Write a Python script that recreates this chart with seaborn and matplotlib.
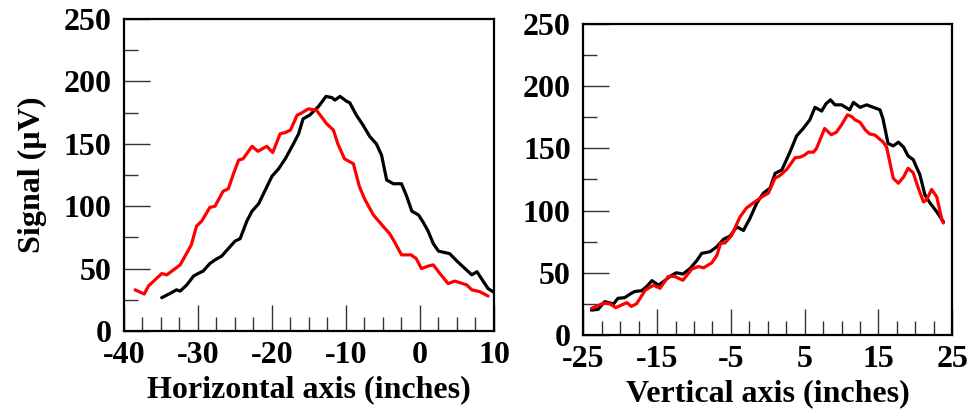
import numpy as np
import pandas as pd
import matplotlib
matplotlib.use("Agg")
import matplotlib.pyplot as plt
from matplotlib.ticker import MultipleLocator
import seaborn as sns

# ---- Data ----
h_red_x = [-38.5, -37.25, -36.7, -34.9, -34.2, -32.4, -30.9, -30.2, -29.5, -28.4, -27.7, -26.6, -25.9,
           -25.2, -24.5, -23.9, -22.7, -21.9, -20.7, -19.9, -18.9, -18.2, -17.5, -16.6, -16.2, -15.1,
           -14.0, -12.6, -11.7, -11.1, -10.2, -9.0, -8.2, -7.5, -6.3, -5.0, -4.1, -3.4, -2.5, -1.2,
           -0.5, 0.2, 1.1, 1.8, 2.7, 3.8, 4.7, 6.3, 7.0, 8.1, 9.2]
h_red_y = [33, 29.6, 36, 46, 45, 53, 69, 84, 88, 99, 100, 112, 114,
           126, 137, 138, 148, 144, 148, 143, 158, 159, 161, 173, 174, 178,
           177, 166, 161, 150, 138, 134, 116, 106, 93, 84, 78, 71, 61, 61,
           58, 50, 52, 53, 46, 38, 40, 37, 33, 31.5, 28]

h_blk_x = [-34.9, -33.8, -32.9, -32.4, -31.5, -30.6, -30.0, -29.3, -28.4, -27.7, -26.8, -25.9, -25.0,
           -24.3, -23.4, -22.7, -21.8, -20.9, -20.0, -19.1, -18.2, -17.1, -16.4, -15.8, -14.9, -13.7,
           -12.7, -11.9, -11.5, -10.8, -9.9, -9.5, -8.6, -7.7, -6.8, -5.9, -5.2, -4.5, -3.6, -2.5,
           -1.8, -1.1, -0.2, 0.45, 1.1, 1.8, 2.5, 4.0, 5.0, 5.9, 7.0, 7.7, 8.3, 9.2, 10.0]
h_blk_y = [26.7, 30, 33, 32, 37, 44, 46, 48, 54, 57, 60, 66, 72,
           74, 88, 96, 102, 113, 124, 130, 138, 150, 158, 170, 173, 180,
           188, 187, 185, 188, 184, 183, 173, 165, 156, 150, 141, 121, 118, 118,
           108, 96, 93, 87, 80, 70, 64, 62, 56, 51, 45, 47.5, 42, 34, 31]

v_blk_x = [-23.9, -23.0, -22.1, -20.9, -20.3, -19.4, -18.5, -18.0, -17.1, -16.4, -15.7, -14.8, -13.9,
           -13.3, -12.4, -11.5, -10.5, -9.6, -8.96, -7.8, -6.9, -6.0, -5.1, -4.2, -3.3, -2.4, -1.5,
           -0.6, 0.3, 1.0, 1.9, 3.0, 3.9, 4.8, 5.7, 6.4, 7.3, 7.9, 8.5, 9.1, 10.0, 11.1, 11.6, 12.5,
           13.4, 14.3, 15.2, 15.6, 16.3, 17.0, 17.7, 18.4, 19.0, 19.7, 20.6, 21.3, 22.0, 22.9, 23.8]
v_blk_y = [20, 20.6, 26.8, 25, 29.5, 30, 33.5, 35, 35.6, 39, 43.7, 40, 44,
           47, 50, 49, 53.6, 60, 65.6, 67, 71, 77, 79.6, 87, 84, 94, 106,
           114, 118, 130, 132.6, 147, 160, 166, 173, 183, 180, 186, 189, 185, 185, 181, 187, 183,
           185, 183, 181, 174, 154, 152, 155, 151, 144, 141, 129, 112.5, 106, 99, 91]

v_red_x = [-23.9, -22.3, -21.4, -20.6, -19.1, -18.5, -17.8, -16.6, -15.5, -14.6, -13.5, -12.6, -11.5,
           -10.3, -9.4, -8.7, -7.6, -6.9, -6.4, -5.8, -4.9, -3.8, -2.9, -2.0, -0.8, 0.07, 0.97, 1.6,
           2.55, 3.7, 4.4, 5.0, 5.5, 6.2, 6.6, 7.7, 8.6, 9.3, 10.0, 10.8, 11.4, 11.8, 12.5, 13.2,
           13.8, 14.5, 15.65, 16.1, 17.0, 17.7, 18.4, 19.0, 19.7, 20.4, 21.1, 21.5, 22.2, 22.9, 23.6, 23.8]
v_red_y = [21.4, 25.5, 25, 22, 26, 23, 25, 36, 40, 37.5, 47, 47, 44,
           53, 55, 54, 58, 64, 73.7, 74, 80, 94.6, 102, 106, 111, 114, 126, 128,
           133, 142.5, 143, 144.7, 147, 147, 150, 166, 161, 163, 169, 177, 175.5, 173, 171, 165,
           161.6, 160.8, 155, 151, 126, 122, 127, 134, 130.5, 118, 107, 108.5, 117, 111, 92.4, 90]

h_xticks = [-40, -30, -20, -10, 0, 10]
v_xticks = [-25, -15, -5, 5, 15, 25]
y_ticks = [0, 50, 100, 150, 200, 250]

sns.set_style("white")
plt.rcParams["font.family"] = ["Liberation Serif", "DejaVu Serif"]
plt.rcParams["font.weight"] = "bold"
plt.rcParams["axes.unicode_minus"] = False
plt.rcParams["text.color"] = "black"
plt.rcParams["axes.labelcolor"] = "black"
plt.rcParams["xtick.color"] = "black"
plt.rcParams["ytick.color"] = "black"

fig = plt.figure(figsize=(9.73, 4.15), dpi=100)
ax1 = fig.add_axes([0.1274, 0.2024, 0.3803, 0.7518])
ax2 = fig.add_axes([0.5995, 0.1928, 0.3792, 0.7494])

df_h = pd.concat([
    pd.DataFrame({"x": h_blk_x, "y": h_blk_y, "s": "black"}),
    pd.DataFrame({"x": h_red_x, "y": h_red_y, "s": "red"}),
])
df_v = pd.concat([
    pd.DataFrame({"x": v_blk_x, "y": v_blk_y, "s": "black"}),
    pd.DataFrame({"x": v_red_x, "y": v_red_y, "s": "red"}),
])
pal = {"black": "#000000", "red": "#ff0000"}

sns.lineplot(data=df_h, x="x", y="y", hue="s", palette=pal, sort=False,
             estimator=None, lw=2.3, legend=False, ax=ax1)
sns.lineplot(data=df_v[df_v.s == "black"], x="x", y="y", color="#000000", sort=False,
             estimator=None, lw=2.3, legend=False, ax=ax2)
sns.lineplot(data=df_v[df_v.s == "red"], x="x", y="y", color="#ff0000", sort=False,
             estimator=None, lw=2.3, legend=False, ax=ax2)

for ax, xt, xlim, xlabel in [(ax1, h_xticks, (-40, 10), "Horizontal axis (inches)"),
                             (ax2, v_xticks, (-25, 25), "Vertical axis (inches)")]:
    ax.set_xlim(*xlim)
    ax.set_ylim(0, 250)
    ax.set_xticks(xt)
    ax.set_yticks(y_ticks)
    ax.xaxis.set_minor_locator(MultipleLocator(2.5))
    ax.yaxis.set_minor_locator(MultipleLocator(25))
    ax.tick_params(which="both", direction="in", bottom=True, left=True, top=False, right=False,
                   color="#333333", labelcolor="black", width=1.0, labelsize=23)
    ax.tick_params(which="major", length=19)
    ax.tick_params(which="minor", length=10)
    ax.tick_params(axis="x", which="major", pad=7)
    ax.tick_params(axis="y", which="major", pad=9)
    for lab in ax.get_xticklabels() + ax.get_yticklabels():
        lab.set_fontweight("bold")
    for sp in ax.spines.values():
        sp.set_color("#000000")
        sp.set_linewidth(1.6)
    ax.set_xlabel(xlabel, fontsize=23, fontweight="bold", labelpad=4, color="black")
    ax.set_ylabel("")
    ax.grid(False)

ax1.set_ylabel("Signal (\u00b5V)", fontsize=23, fontweight="bold", labelpad=12, color="black")

fig.savefig("out.png", dpi=100)
